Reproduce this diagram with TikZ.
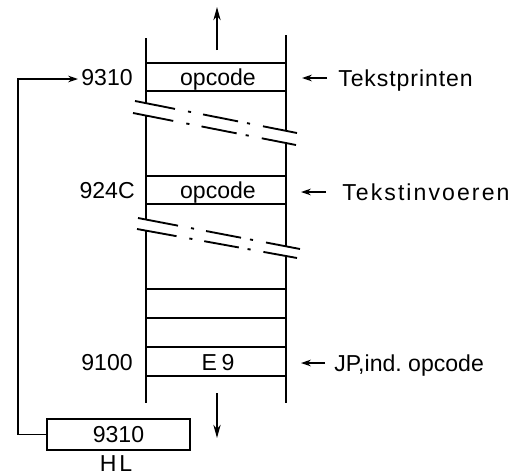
\documentclass[tikz,border=0pt]{standalone}
\usepackage{fontspec}
\setmainfont{Liberation Sans}
\usetikzlibrary{arrows.meta,calc}
\newcommand\brkln[2]{%
  \draw[brk] (#1) -- ($(#1)!0.247!(#2)$);
  \draw[brk] ($(#1)!0.327!(#2)$) -- ($(#1)!0.346!(#2)$);
  \draw[brk] ($(#1)!0.420!(#2)$) -- ($(#1)!0.636!(#2)$);
  \draw[brk] ($(#1)!0.691!(#2)$) -- ($(#1)!0.710!(#2)$);
  \draw[brk] ($(#1)!0.790!(#2)$) -- (#2);
}
\begin{document}
\begin{tikzpicture}[x=0.75pt,y=-0.75pt,
  wall/.style={line width=2pt},
  rowline/.style={line width=1.4pt},
  brk/.style={line width=1.4pt},
  arr/.style={line width=1pt,-{Stealth[length=7.5pt,width=5pt]}},
  bigarr/.style={line width=1.1pt,-{Stealth[length=10pt,width=5.5pt]}},
  lbl/.style={font=\fontsize{17.3}{19}\selectfont, inner sep=0pt, text height=12.4pt, text depth=0pt},
]
\useasboundingbox (0,0) rectangle (517,475);
% walls
\draw[wall] (146,38) -- (146,103.2);
\draw[wall] (146,115.6) -- (146,219.5);
\draw[wall] (146,230.6) -- (146,403);
\draw[wall] (286,35) -- (286,130.8);
\draw[wall] (286,143) -- (286,246.3);
\draw[wall] (286,256) -- (286,403);
% rows
\foreach \yy in {63,91,176,204,289,318,347,376} \draw[rowline] (146,\yy) -- (286,\yy);
% breaks
\brkln{135,101}{297,133}
\brkln{133,113}{296,145}
\brkln{138,218}{300,249}
\brkln{137,229}{297,258}
% cell texts
\node[lbl] (op1) at (218,77) {opcode};
\node[lbl] (op2) at (218,190) {opcode};
\node[lbl] (e9) at (218,362) {\addfontfeature{LetterSpace=20}E9};
% addresses
\node[lbl,anchor=east] (a9310) at (133,77) {9310};
\node[lbl,anchor=east] (a924c) at (135,190) {924C};
\node[lbl,anchor=east] (a9100) at (133,362) {9100};
% right labels
\node[lbl,anchor=west,inner xsep=8.25pt] (tp) at (327,78) {\addfontfeature{LetterSpace=4}Tekstprinten};
\node[lbl,anchor=west,inner xsep=12pt] (ti) at (326,192) {\addfontfeature{LetterSpace=9}Tekstinvoeren};
\node[lbl,anchor=west,inner xsep=6.75pt] (jp) at (325,363) {JP,ind.\ opcode};
\coordinate (w1) at (302,78);
\coordinate (w2) at (301,192);
\coordinate (w3) at (301,363);
\draw[arr] (tp.west) -- (w1);
\draw[arr] (ti.west) -- (w2);
\draw[arr] (jp.west) -- (w3);
% up / down arrows
\coordinate (upS) at (217,50);
\coordinate (upE) at (217,7);
\coordinate (dnS) at (217,393);
\coordinate (dnE) at (217,438);
\draw[bigarr] (upS) -- (upE);
\draw[bigarr] (dnS) -- (dnE);
% HL register
\node[draw,line width=1.4pt,lbl,inner sep=0pt,minimum width=107.25pt,minimum height=23.25pt] (hlbox) at (118.5,434.5) {9310};
\node[lbl] (hl) at (116,463) {\addfontfeature{LetterSpace=12}HL};
% loop
\coordinate (lp1) at (18,434.5);
\coordinate (lp2) at (18,79);
\coordinate (in9310) at (78,79);
\draw[arr] (hlbox.west) -- (lp1) -- (lp2) -- (in9310);
\end{tikzpicture}
\end{document}
